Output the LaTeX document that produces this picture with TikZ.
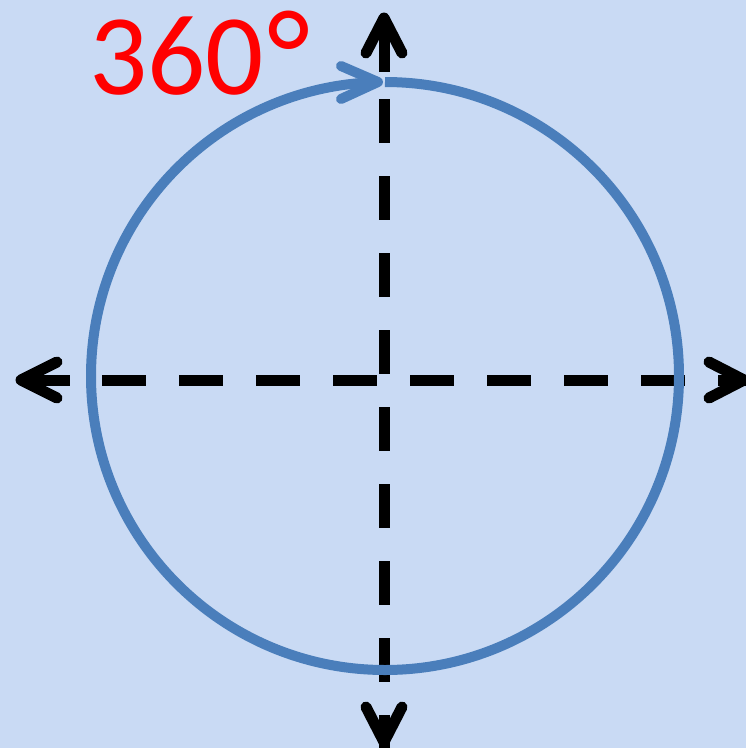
\documentclass[tikz,border=0pt]{standalone}
\usepackage{fontspec}
\setmainfont{Carlito}
\definecolor{bg}{HTML}{C9DAF4}
\definecolor{circ}{HTML}{4A7EBB}
\begin{document}
\begin{tikzpicture}[x=1pt,y=-1pt,
  axis/.style={line width=11pt, dash pattern=on 44pt off 33pt},
  shaft/.style={line width=11pt},
  chev/.style={line width=11pt, line cap=round, line join=round},
  ring/.style={circ, line width=10pt},
  ringhead/.style={circ, line width=10pt, line cap=round, line join=round}]
\fill[bg] (0,0) rectangle (746,748);
\useasboundingbox (0,0) rectangle (746,748);
% coordinates
\coordinate (vtop) at (384,22);
\coordinate (vbot) at (384,762);
\coordinate (hleft) at (25,380);
\coordinate (hright) at (764,380);
\coordinate (ttip) at (384,18);
\coordinate (btip) at (384,742);
\coordinate (ltip) at (21,380);
\coordinate (rtip) at (744,380);
% axes
\draw[axis] (vtop) -- (vbot);
\draw[axis] (hleft) -- (hright);
\draw[shaft] (ttip) -- (384,72);
\draw[shaft] (ltip) -- (70,380);
% chevrons
\draw[chev] (366,53) -- (ttip) -- (402,53);
\draw[chev] (366,707) -- (btip) -- (402,707);
\draw[chev] (57,362) -- (ltip) -- (57,398);
\draw[chev] (709,362) -- (rtip) -- (709,398);
% circle
\coordinate (cstart) at (385,82);
\draw[ring] (cstart) arc[start angle=270, end angle=628.6, radius=294];
\coordinate (ctip) at (378,82);
\draw[ringhead] (341,66) -- (ctip) -- (341,99);
% label
\node[anchor=base west, inner sep=0pt, text=red, font=\fontsize{115}{115}\selectfont] (lbl) at (89,94) {360\hspace{3pt}\raisebox{-3pt}{\scalebox{1.1}{°}}};
\end{tikzpicture}
\end{document}
